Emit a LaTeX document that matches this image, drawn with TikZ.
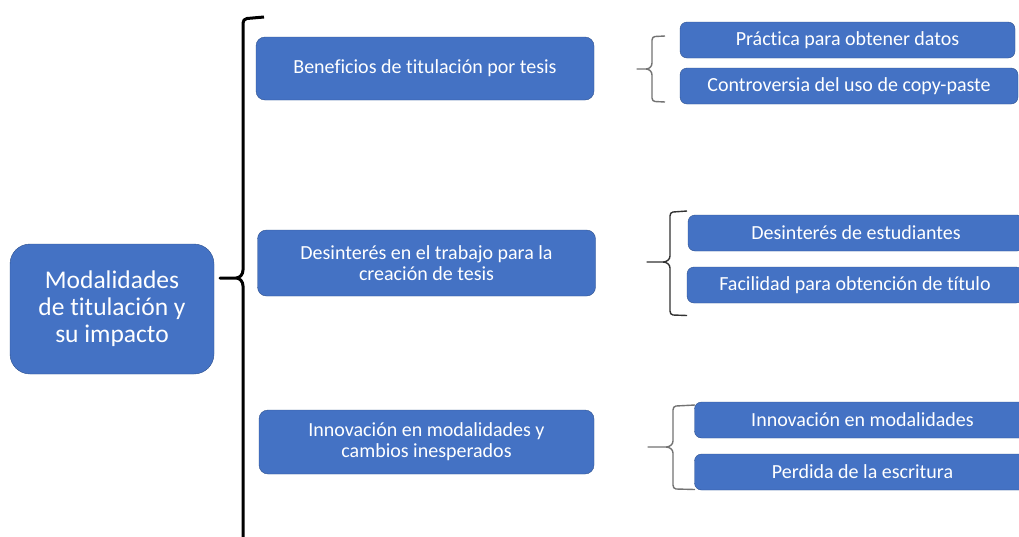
\documentclass[tikz,border=0pt]{standalone}
\usepackage{fontspec}
\setmainfont{Carlito}[Ligatures=NoCommon]
\definecolor{boxblue}{HTML}{4472C4}
\definecolor{boxline}{HTML}{2F528F}

\begin{document}
\begin{tikzpicture}[x=1pt,y=-1pt,
   mainbox/.style={rectangle,rounded corners=20pt,draw=boxline,fill=boxblue,
    text=white,minimum width=204pt,minimum height=130pt,align=center,
    font=\fontsize{25.5}{27}\selectfont},
   midbox/.style={rectangle,rounded corners=9pt,draw=boxline,fill=boxblue,
    text=white,minimum width=338pt,minimum height=63pt,align=center,
    font=\fontsize{20}{21}\selectfont},
   leafbox/.style={rectangle,rounded corners=7pt,draw=boxline,fill=boxblue,
    text=white,minimum width=336pt,minimum height=36pt,
    font=\fontsize{20}{21}\selectfont},
   bigbrace/.style={draw=black,line width=3pt,line join=round},
   smallbrace/.style={draw=black!55,line width=1.4pt,line join=round}
    ]

  \clip (0,0) rectangle (1019,536);
  \fill[white] (0,0) rectangle (1019,536);

  % -- root
  \node[mainbox] at (112,309) (root) {Modalidades\\de titulación y\\su impacto};

  % -- middle column
  \node[midbox] at (425,68.5) (t1) {Beneficios de titulación por tesis};
  \node[midbox,minimum height=66pt] at (426.5,263) (t2) {Desinterés en el trabajo para la\\creación de tesis};
  \node[midbox,minimum height=64pt,minimum width=335pt] at (426.5,442) (t3) {Innovación en modalidades y\\cambios inesperados};

  % -- right column
  \node[leafbox,minimum width=335pt] at (847.5,40) (t1a) {Práctica para obtener datos};
  \node[leafbox,minimum width=338pt] at (849,86) (t1b) {Controversia del uso de copy-paste};
  \node[leafbox] at (856,233) (t2a) {Desinterés de estudiantes};
  \node[leafbox] at (855,285) (t2b) {Facilidad para obtención de título};
  \node[leafbox] at (862.5,420) (t3a) {Innovación en modalidades};
  \node[leafbox] at (862.5,472) (t3b) {Perdida de la escritura};

  % -- braces
  \draw[bigbrace] (264,17) -- (247,18.5) to[out=180,in=90] (243,23) -- (243,270)
    to[out=-90,in=0] (236,278) -- (220,278) -- (236,278)
    to[out=0,in=90] (243,286) -- (243,545);
  \draw[smallbrace] (665,36) -- (655,36.5) to[out=180,in=90] (652,40) -- (652,63)
    to[out=-90,in=0] (646,69) -- (637,69) -- (646,69)
    to[out=0,in=90] (652,75) -- (652,98) to[out=-90,in=180] (655,101.5) -- (665,102);
  \draw[smallbrace,draw=black!80] (687,211) -- (673,212) to[out=180,in=90] (670,216) -- (670,256)
    to[out=-90,in=0] (663,262) -- (647,262) -- (663,262)
    to[out=0,in=90] (670,268) -- (670,311) to[out=-90,in=180] (673,315) -- (687,315.5);
  \draw[smallbrace] (695,405) -- (676,406) to[out=180,in=90] (673,410) -- (673,441)
    to[out=-90,in=0] (666,447) -- (648,447) -- (666,447)
    to[out=0,in=90] (673,453) -- (673,485) to[out=-90,in=180] (676,489) -- (695,489.5);

\end{tikzpicture}
\end{document}
